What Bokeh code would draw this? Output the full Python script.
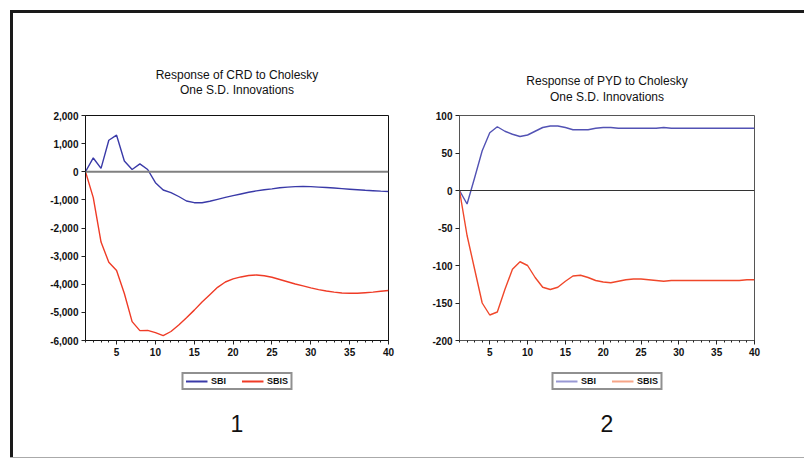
from bokeh.plotting import figure
from bokeh.models import (Range1d, FixedTicker, NumeralTickFormatter, Span, Legend,
                          LegendItem, Label, ColumnDataSource, Div)
from bokeh.layouts import row, column
from bokeh.embed import file_html
from bokeh.resources import INLINE

periods = list(range(1, 41))

crd_sbi = [0, 490, 120, 1120, 1300, 380, 80, 280, 80, -390,
           -650, -740, -880, -1040, -1100, -1100, -1050, -980, -910, -850,
           -790, -730, -680, -640, -610, -570, -545, -530, -525, -530,
           -545, -560, -580, -600, -620, -640, -660, -675, -690, -700]
crd_sbis = [0, -920, -2500, -3220, -3510, -4330, -5330, -5650, -5640, -5720,
            -5830, -5680, -5450, -5190, -4920, -4630, -4370, -4110, -3920, -3810,
            -3740, -3690, -3670, -3700, -3750, -3830, -3910, -3990, -4060, -4130,
            -4190, -4240, -4280, -4310, -4320, -4320, -4300, -4280, -4250, -4220]

pyd_sbi = [0, -18, 17, 53, 77, 85, 79, 75, 72, 74,
           79, 84, 86, 86, 84, 81, 81, 81, 83, 84,
           84, 83, 83, 83, 83, 83, 83, 84, 83, 83,
           83, 83, 83, 83, 83, 83, 83, 83, 83, 83]
pyd_sbis = [0, -60, -105, -150, -166, -162, -132, -105, -95, -100,
            -116, -129, -132, -129, -121, -114, -113, -116, -120, -122,
            -123, -121, -119, -118, -118, -119, -120, -121, -120, -120,
            -120, -120, -120, -120, -120, -120, -120, -120, -119, -119]

x_ticks = [5, 10, 15, 20, 25, 30, 35, 40]
crd_ticks = [-6000, -5000, -4000, -3000, -2000, -1000, 0, 1000, 2000]
pyd_ticks = [-200, -150, -100, -50, 0, 50, 100]
series_names = ["SBI", "SBIS"]

T_H, P_H, Q_H = 95, 256, 93
NAN = float("nan")


def blank(width, height, mb_lr):
    q = figure(width=width, height=height, x_range=Range1d(0, 1), y_range=Range1d(0, height),
               output_backend="svg", toolbar_location=None,
               x_axis_location=None, y_axis_location=None,
               min_border_left=mb_lr[0], min_border_right=mb_lr[1],
               min_border_top=0, min_border_bottom=0)
    q.grid.visible = False
    q.outline_line_color = None
    return q


def make_title(line1, line2, y1, y2, width, mb_lr):
    t = blank(width, T_H, mb_lr)
    for text, y in ((line1, y1), (line2, y2)):
        t.add_layout(Label(x=0.5, y=y, text=text, text_align="center", text_baseline="middle",
                           text_font_size="12px", text_color="#111111"))
    return t


def make_chart(ys, yr, yticks, width, mb_lr, colors, zero_color, zero_width, box_color):
    p = figure(width=width, height=P_H, x_range=Range1d(1, 40), y_range=Range1d(*yr),
               output_backend="svg", toolbar_location=None, title="",
               min_border_left=mb_lr[0], min_border_right=mb_lr[1],
               min_border_top=7, min_border_bottom=24)
    p.grid.visible = False
    p.outline_line_color = box_color

    p.xaxis.ticker = FixedTicker(ticks=x_ticks, minor_ticks=periods)
    p.yaxis.ticker = FixedTicker(ticks=yticks)
    p.yaxis.formatter = NumeralTickFormatter(format="0,0")
    for ax in (p.xaxis, p.yaxis):
        ax.axis_line_color = box_color
        ax.major_tick_line_color = "#222222"
        ax.minor_tick_line_color = "#222222"
        ax.major_tick_in = 0
        ax.major_tick_out = 4
        ax.minor_tick_in = 0
        ax.minor_tick_out = 2
        ax.major_label_text_font_size = "10px"
        ax.major_label_text_font_style = "bold"
        ax.major_label_text_color = "#111111"
        ax.major_label_standoff = 3

    p.add_layout(Span(location=0, dimension="width", line_color=zero_color, line_width=zero_width))
    for y, c in zip(ys, colors):
        p.line(periods, y, line_color=c, line_width=1.4)
    return p


def make_legend(number, width, mb_lr, leg_colors):
    q = blank(width, Q_H, mb_lr)
    rs = [q.line(x="x", y="y", source=ColumnDataSource(dict(x=[NAN], y=[NAN])),
                 line_color=c, line_width=1.8)
          for c in leg_colors]
    legend = Legend(items=[LegendItem(label=n, renderers=[r]) for n, r in zip(series_names, rs)],
                    orientation="horizontal", location="top_center",
                    border_line_color="#222222", border_line_width=2,
                    label_text_font_size="9px", label_text_font_style="bold",
                    label_text_color="#111111",
                    label_standoff=4, glyph_width=22, glyph_height=10, label_height=10,
                    padding=2, spacing=10, margin=8)
    q.add_layout(legend)
    q.add_layout(Label(x=0.5, y=34, text=number, text_align="center", text_baseline="middle",
                       text_font_size="23px", text_color="#111111"))
    return q


W1, W2 = 391, 400
MB1, MB2 = (72, 16), (55, 50)

t1 = make_title("Response of CRD to Cholesky", "One S.D. Innovations", 34, 19, W1, MB1)
t2 = make_title("Response of PYD to Cholesky", "One S.D. Innovations", 28, 12, W2, MB2)
p1 = make_chart([crd_sbi, crd_sbis], (-6000, 2000), crd_ticks, W1, MB1,
                ["#3a3aa8", "#ef3b26"], "#808080", 2, "#111111")
p2 = make_chart([pyd_sbi, pyd_sbis], (-200, 100), pyd_ticks, W2, MB2,
                ["#5252b4", "#f0472a"], "#333333", 1.2, "#555555")
q1 = make_legend("1", W1, MB1, ["#3a3aa8", "#ef3b26"])
q2 = make_legend("2", W2, MB2, ["#9898d4", "#f6a588"])

H = T_H + P_H + Q_H
W = 3 + W1 + W2
top_bar = Div(text="", width=W, height=3, margin=0, styles={"background-color": "#1a1a1a"})
left_bar = Div(text="", width=3, height=H, margin=0, styles={"background-color": "#1a1a1a"})
bottom_bar = Div(text="", width=W, height=1, margin=0, styles={"background-color": "#aaaaaa"})

inner = column(row(t1, t2, margin=0), row(p1, p2, margin=0), row(q1, q2, margin=0), margin=0)
layout = column(top_bar, row(left_bar, inner, margin=0), bottom_bar, margin=(10, 0, 0, 10))

open("out.html", "w").write(file_html(layout, INLINE))
